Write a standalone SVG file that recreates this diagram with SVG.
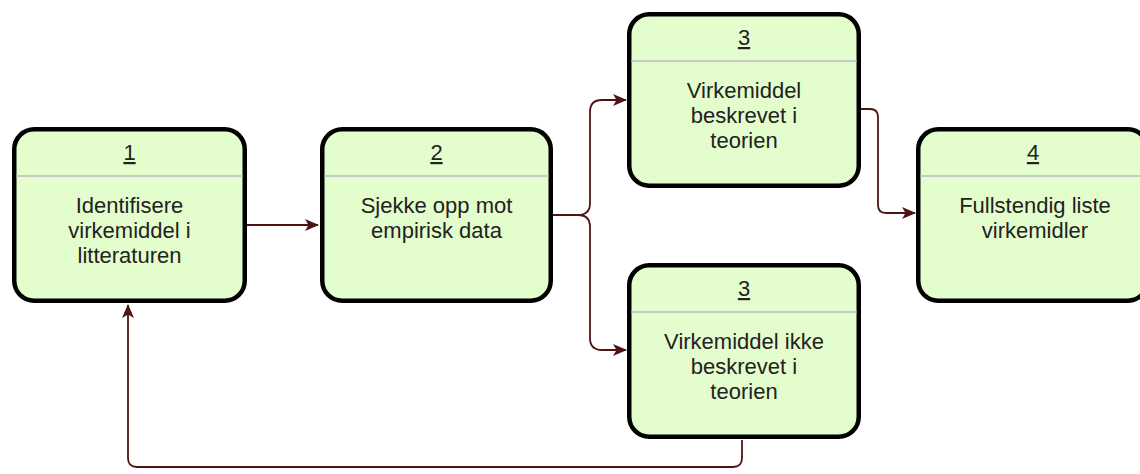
<svg xmlns="http://www.w3.org/2000/svg" width="1140" height="474" viewBox="0 0 1140 474">
  <style>
    .box { fill: #e4fdcc; stroke: #000; stroke-width: 4.5; }
    .div { stroke: #c8c8c8; stroke-width: 2; }
    .num { font-family: "Liberation Sans", Arial, sans-serif; font-size: 22px; fill: #222; text-anchor: middle; text-decoration: underline; }
    .lbl { font-family: "Liberation Sans", Arial, sans-serif; font-size: 22px; fill: #222; text-anchor: middle; }
    .edge { fill: none; stroke: #4e1414; stroke-width: 1.8; }
  </style>
  <defs>
    <marker id="arrow" viewBox="0 0 14 12" refX="13" refY="6" markerWidth="14" markerHeight="12" markerUnits="userSpaceOnUse" orient="auto">
      <path d="M0,0 L14,6 L0,12 L3.5,6 Z" fill="#4e1414"/>
    </marker>
  </defs>

  <g id="connectors">
    <path class="edge" d="M247,225 L318,225" marker-end="url(#arrow)"/>
    <path class="edge" d="M552,215 L578,215 Q590,215 590,203 L590,112 Q590,100 602,100 L626,100" marker-end="url(#arrow)"/>
    <path class="edge" d="M578,215 Q590,215 590,227 L590,338 Q590,350 602,350 L626,350" marker-end="url(#arrow)"/>
    <path class="edge" d="M861,109 L870,109 Q878,109 878,117 L878,205 Q878,213 886,213 L915,213" marker-end="url(#arrow)"/>
    <path class="edge" d="M742,440 L742,458 Q742,467 733,467 L137,467 Q128,467 128,458 L128,305" marker-end="url(#arrow)"/>
  </g>

  <g id="node1">
    <rect class="box" x="14.25" y="129.25" width="230.5" height="171.5" rx="20"/>
    <line class="div" x1="16.5" y1="176" x2="242.5" y2="176"/>
    <text class="num" x="129.5" y="160">1</text>
    <text class="lbl" x="129.5" y="213">Identifisere</text>
    <text class="lbl" x="129.5" y="238">virkemiddel i</text>
    <text class="lbl" x="129.5" y="263">litteraturen</text>
  </g>

  <g id="node2">
    <rect class="box" x="322.25" y="129.25" width="228.5" height="171.5" rx="20"/>
    <line class="div" x1="324.5" y1="176" x2="548.5" y2="176"/>
    <text class="num" x="436.5" y="160">2</text>
    <text class="lbl" x="436.5" y="213">Sjekke opp mot</text>
    <text class="lbl" x="436.5" y="238">empirisk data</text>
  </g>

  <g id="node3a">
    <rect class="box" x="629.25" y="14.25" width="229.5" height="171.5" rx="20"/>
    <line class="div" x1="631.5" y1="61" x2="856.5" y2="61"/>
    <text class="num" x="744" y="45">3</text>
    <text class="lbl" x="744" y="98">Virkemiddel</text>
    <text class="lbl" x="744" y="123">beskrevet i</text>
    <text class="lbl" x="744" y="148">teorien</text>
  </g>

  <g id="node3b">
    <rect class="box" x="629.25" y="265.25" width="229.5" height="171.5" rx="20"/>
    <line class="div" x1="631.5" y1="312" x2="856.5" y2="312"/>
    <text class="num" x="744" y="296">3</text>
    <text class="lbl" x="744" y="349">Virkemiddel ikke</text>
    <text class="lbl" x="744" y="374">beskrevet i</text>
    <text class="lbl" x="744" y="399">teorien</text>
  </g>

  <g id="node4">
    <rect class="box" x="918.25" y="129.25" width="229.5" height="171.5" rx="20"/>
    <line class="div" x1="920.5" y1="176" x2="1145.5" y2="176"/>
    <text class="num" x="1033" y="160">4</text>
    <text class="lbl" x="1035" y="213">Fullstendig liste</text>
    <text class="lbl" x="1035" y="238">virkemidler</text>
  </g>
</svg>
